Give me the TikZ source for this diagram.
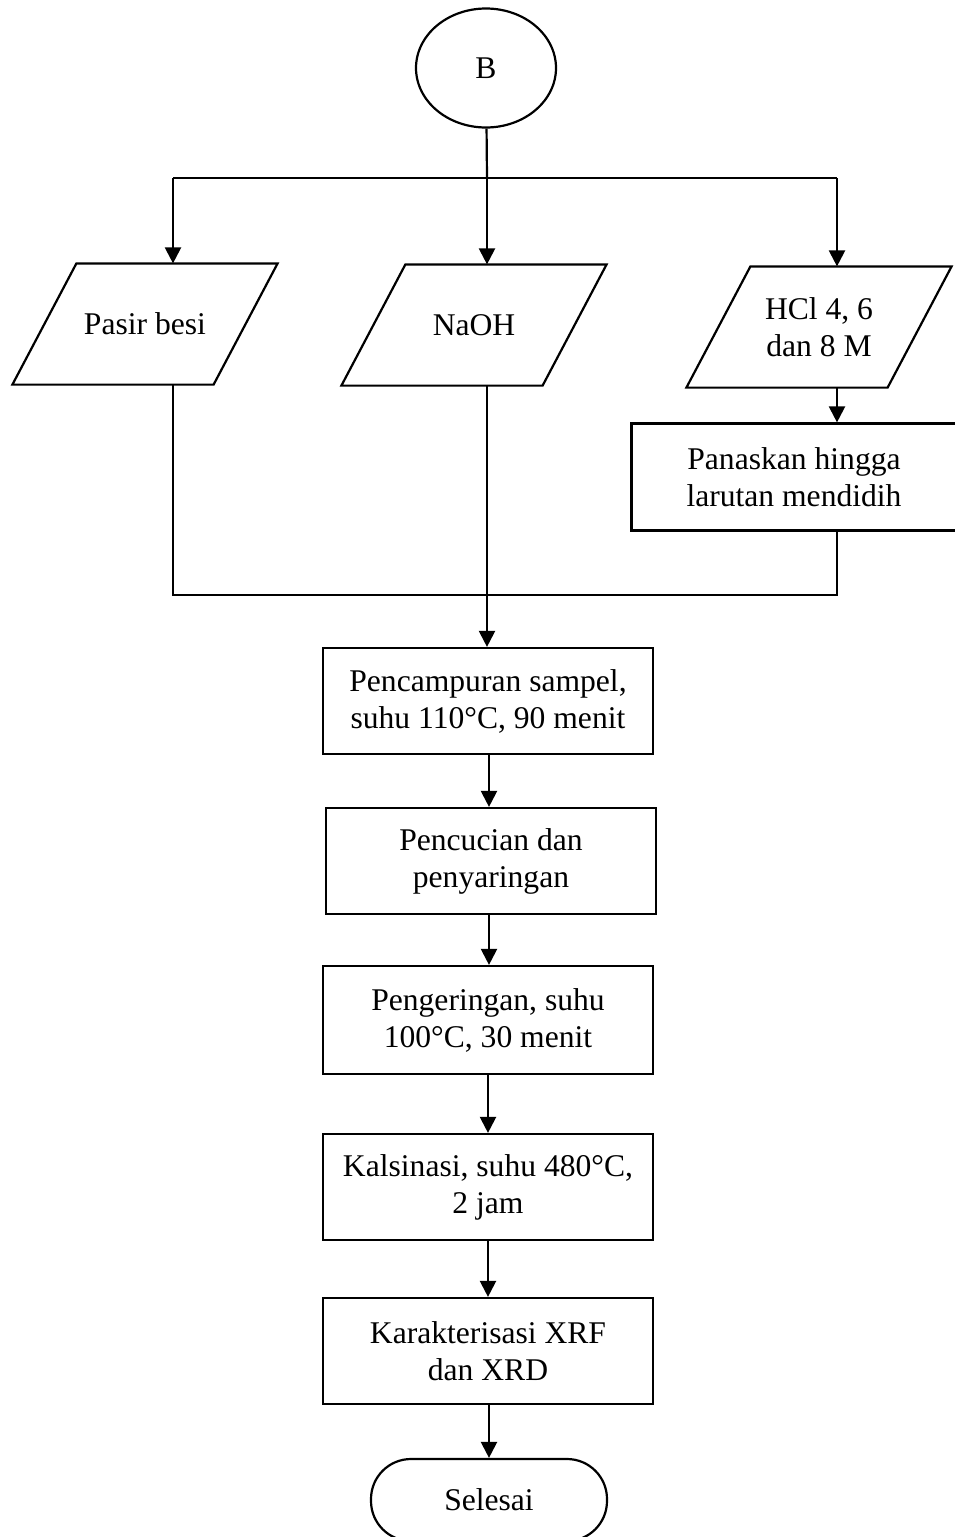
\documentclass[tikz,border=0pt]{standalone}
\usepackage{fontspec}
\setmainfont{Liberation Serif}
\usetikzlibrary{shapes.geometric,arrows.meta}
\tikzset{
  terminal/.style={draw,ellipse,minimum width=70pt,minimum height=59.5pt},
  masukan/.style={minimum width=99.5pt,minimum height=59.5pt,align=center},
  proses/.style={draw,minimum width=165pt,minimum height=53pt,align=center},
  akhir/.style={draw,rounded corners=20pt,minimum width=118pt,minimum height=41pt},
  arr/.style={-{Triangle[length=8pt,width=8pt]}}
}
% jajar genjang di sekeliling node masukan
\newcommand{\jajar}[1]{%
  \draw ([xshift=-16pt]#1.south west) -- ([xshift=16pt]#1.north west)
     -- ([xshift=16pt]#1.north east) -- ([xshift=-16pt]#1.south east) -- cycle;}
\begin{document}
\begin{tikzpicture}[x=0.5pt,y=-0.5pt,line width=1.1pt,
  every node/.style={font=\fontsize{15.8pt}{18.5pt}\selectfont}]
    \useasboundingbox (0,0) rectangle (954,1537);
    % mulai
    \node[terminal] (B) at (486,68) {B};
    % bahan
    \node[masukan] (pasir) at (145,324) {Pasir besi};
    \node[masukan] (naoh) at (474,325) {NaOH};
    \node[masukan] (hcl) at (819,327) {HCl 4, 6\\dan 8 M};
    \jajar{pasir} \jajar{naoh} \jajar{hcl}
    \node[proses,minimum width=162.5pt,minimum height=53.5pt] (panas) at (794,477) {Panaskan hingga\\larutan mendidih};
    % proses utama
    \node[proses] (campur) at (488,701) {Pencampuran sampel,\\suhu 110°C, 90 menit};
    \node[proses] (cuci) at (491,861) {Pencucian dan\\penyaringan};
    \node[proses,minimum height=54pt] (kering) at (488,1020) {Pengeringan, suhu\\100°C, 30 menit};
    \node[proses] (kalsin) at (488,1187) {Kalsinasi, suhu 480°C,\\2 jam};
    \node[proses] (xrf) at (488,1351) {Karakterisasi XRF\\dan XRD};
    \node[akhir] (selesai) at (489,1500) {Selesai};
    % cabang
    \coordinate (cx) at (487,178);
    \coordinate (lx) at (173,178);
    \coordinate (rx) at (837,178);
    \coordinate (gab) at (487,595);
    \draw (lx) -- (rx);
    \draw (B) -- (cx);
    \draw[arr] (cx) -- (cx |- naoh.north);
    \draw[arr] (lx) -- (lx |- pasir.north);
    \draw[arr] (rx) -- (rx |- hcl.north);
    \draw[arr] (rx |- hcl.south) -- (rx |- panas.north);
    % gabung
    \draw (lx |- pasir.south) -- (lx |- gab) -- (rx |- gab) -- (rx |- panas.south);
    \draw[arr] (cx |- naoh.south) -- (cx |- campur.north);
    \draw[arr] (campur.south) ++(1,0) coordinate (c1) -- (c1 |- cuci.north);
    \draw[arr] (c1 |- cuci.south) -- (c1 |- kering.north);
    \draw[arr] (kering) -- (kalsin);
    \draw[arr] (kalsin) -- (xrf);
    \draw[arr] (xrf.south) ++(1,0) coordinate (c2) -- (c2 |- selesai.north);
\end{tikzpicture}
\end{document}
